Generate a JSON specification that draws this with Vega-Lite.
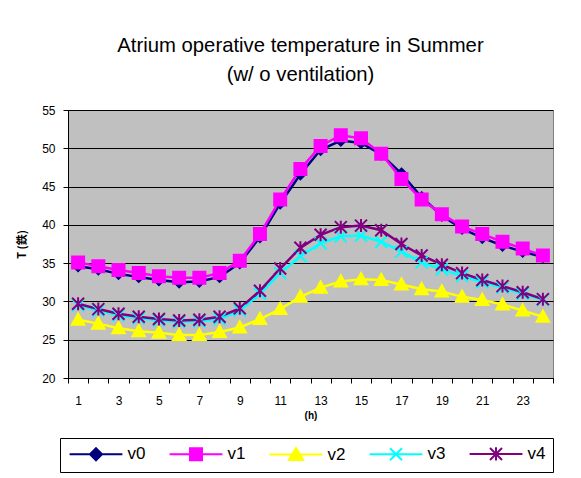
{
  "$schema": "https://vega.github.io/schema/vega-lite/v6.json",
  "width": 485,
  "height": 268,
  "autosize": {"type": "none"},
  "padding": {"left": 68, "top": 110, "right": 28, "bottom": 100},
  "background": "white",
  "config": {
    "font": "Liberation Sans",
    "view": {"fill": "#C0C0C0", "stroke": "#808080", "strokeWidth": 1}
  },
  "title": {
    "text": ["Atrium operative temperature in Summer", "(w/ o ventilation)"],
    "fontSize": 20.3,
    "fontWeight": "normal",
    "lineHeight": 29,
    "color": "black",
    "anchor": "middle",
    "dx": -10,
    "offset": 19
  },
  "data": {"values": [
    {"h":1,"s":"v0","T":34.6},{"h":2,"s":"v0","T":34.2},{"h":3,"s":"v0","T":33.6},{"h":4,"s":"v0","T":33.2},{"h":5,"s":"v0","T":32.8},{"h":6,"s":"v0","T":32.5},{"h":7,"s":"v0","T":32.6},{"h":8,"s":"v0","T":33.2},{"h":9,"s":"v0","T":35.0},{"h":10,"s":"v0","T":38.4},{"h":11,"s":"v0","T":42.8},{"h":12,"s":"v0","T":46.6},{"h":13,"s":"v0","T":49.8},{"h":14,"s":"v0","T":51.0},{"h":15,"s":"v0","T":50.7},{"h":16,"s":"v0","T":49.2},{"h":17,"s":"v0","T":46.7},{"h":18,"s":"v0","T":43.6},{"h":19,"s":"v0","T":41.2},{"h":20,"s":"v0","T":39.5},{"h":21,"s":"v0","T":38.3},{"h":22,"s":"v0","T":37.3},{"h":23,"s":"v0","T":36.5},{"h":24,"s":"v0","T":35.8},
    {"h":1,"s":"v1","T":35.1},{"h":2,"s":"v1","T":34.6},{"h":3,"s":"v1","T":34.1},{"h":4,"s":"v1","T":33.7},{"h":5,"s":"v1","T":33.3},{"h":6,"s":"v1","T":33.1},{"h":7,"s":"v1","T":33.1},{"h":8,"s":"v1","T":33.7},{"h":9,"s":"v1","T":35.3},{"h":10,"s":"v1","T":38.8},{"h":11,"s":"v1","T":43.3},{"h":12,"s":"v1","T":47.3},{"h":13,"s":"v1","T":50.3},{"h":14,"s":"v1","T":51.7},{"h":15,"s":"v1","T":51.3},{"h":16,"s":"v1","T":49.3},{"h":17,"s":"v1","T":46.0},{"h":18,"s":"v1","T":43.3},{"h":19,"s":"v1","T":41.4},{"h":20,"s":"v1","T":39.8},{"h":21,"s":"v1","T":38.8},{"h":22,"s":"v1","T":37.8},{"h":23,"s":"v1","T":36.9},{"h":24,"s":"v1","T":36.0},
    {"h":1,"s":"v2","T":27.6},{"h":2,"s":"v2","T":27.1},{"h":3,"s":"v2","T":26.5},{"h":4,"s":"v2","T":26.1},{"h":5,"s":"v2","T":25.9},{"h":6,"s":"v2","T":25.6},{"h":7,"s":"v2","T":25.6},{"h":8,"s":"v2","T":26.0},{"h":9,"s":"v2","T":26.6},{"h":10,"s":"v2","T":27.7},{"h":11,"s":"v2","T":29.0},{"h":12,"s":"v2","T":30.6},{"h":13,"s":"v2","T":31.8},{"h":14,"s":"v2","T":32.6},{"h":15,"s":"v2","T":32.9},{"h":16,"s":"v2","T":32.8},{"h":17,"s":"v2","T":32.2},{"h":18,"s":"v2","T":31.6},{"h":19,"s":"v2","T":31.3},{"h":20,"s":"v2","T":30.6},{"h":21,"s":"v2","T":30.2},{"h":22,"s":"v2","T":29.6},{"h":23,"s":"v2","T":28.8},{"h":24,"s":"v2","T":28.0},
    {"h":1,"s":"v3","T":29.5},{"h":2,"s":"v3","T":28.8},{"h":3,"s":"v3","T":28.2},{"h":4,"s":"v3","T":27.8},{"h":5,"s":"v3","T":27.5},{"h":6,"s":"v3","T":27.3},{"h":7,"s":"v3","T":27.4},{"h":8,"s":"v3","T":27.7},{"h":9,"s":"v3","T":28.8},{"h":10,"s":"v3","T":31.0},{"h":11,"s":"v3","T":33.7},{"h":12,"s":"v3","T":35.9},{"h":13,"s":"v3","T":37.6},{"h":14,"s":"v3","T":38.5},{"h":15,"s":"v3","T":38.6},{"h":16,"s":"v3","T":37.8},{"h":17,"s":"v3","T":36.5},{"h":18,"s":"v3","T":35.1},{"h":19,"s":"v3","T":34.2},{"h":20,"s":"v3","T":33.3},{"h":21,"s":"v3","T":32.5},{"h":22,"s":"v3","T":31.8},{"h":23,"s":"v3","T":31.0},{"h":24,"s":"v3","T":30.2},
    {"h":1,"s":"v4","T":29.7},{"h":2,"s":"v4","T":29.0},{"h":3,"s":"v4","T":28.4},{"h":4,"s":"v4","T":28.0},{"h":5,"s":"v4","T":27.7},{"h":6,"s":"v4","T":27.5},{"h":7,"s":"v4","T":27.6},{"h":8,"s":"v4","T":28.0},{"h":9,"s":"v4","T":29.1},{"h":10,"s":"v4","T":31.4},{"h":11,"s":"v4","T":34.3},{"h":12,"s":"v4","T":37.0},{"h":13,"s":"v4","T":38.7},{"h":14,"s":"v4","T":39.7},{"h":15,"s":"v4","T":39.9},{"h":16,"s":"v4","T":39.3},{"h":17,"s":"v4","T":37.5},{"h":18,"s":"v4","T":36.0},{"h":19,"s":"v4","T":34.8},{"h":20,"s":"v4","T":33.7},{"h":21,"s":"v4","T":32.8},{"h":22,"s":"v4","T":32.0},{"h":23,"s":"v4","T":31.2},{"h":24,"s":"v4","T":30.3}
  ]},
  "encoding": {
    "x": {
      "field": "h", "type": "ordinal",
      "scale": {"type": "band", "paddingInner": 0, "paddingOuter": 0},
      "axis": {
        "title": "(h)", "titleFontSize": 10, "titleFontWeight": "bold", "titleColor": "black", "titlePadding": 4,
        "labelAngle": 0, "labelFontSize": 12, "labelColor": "black", "labelPadding": 12, "labelOverlap": false,
        "labelExpr": "datum.value % 2 == 1 ? datum.label : ''",
        "tickBand": "extent", "tickSize": 5, "tickColor": "black",
        "domainColor": "black", "grid": false
      }
    },
    "y": {
      "field": "T", "type": "quantitative",
      "scale": {"domain": [20, 55], "nice": false, "zero": false},
      "axis": {
        "title": "T (鉄)", "titleFont": "Noto Sans CJK SC", "titleFontSize": 11, "titleFontWeight": "bold", "titleColor": "black", "titlePadding": 14,
        "values": [20, 25, 30, 35, 40, 45, 50, 55],
        "labelFontSize": 12, "labelColor": "black", "labelPadding": 8,
        "tickSize": 5, "tickColor": "black", "domainColor": "black",
        "grid": true, "gridColor": "black", "gridWidth": 1, "gridOpacity": 1
      }
    }
  },
  "layer": [
    {
      "mark": {"type": "line", "strokeWidth": 2.5},
      "encoding": {
        "color": {"field": "s", "type": "nominal",
          "scale": {"domain": ["v0","v1","v2","v3","v4"], "range": ["#000080","#FF00FF","#FFFF00","#00FFFF","#800080"]},
          "legend": null}
      }
    },
    {
      "mark": {"type": "point", "filled": true, "strokeWidth": 2, "opacity": 1, "size": 100},
      "encoding": {
        "color": {"field": "s", "type": "nominal", "legend": null},
        "stroke": {"field": "s", "type": "nominal",
          "scale": {"domain": ["v0","v1","v2","v3","v4"], "range": ["#000080","#FF00FF","#FFFF00","#00FFFF","#800080"]},
          "legend": null},
        "shape": {"field": "s", "type": "nominal",
          "scale": {"domain": ["v0","v1","v2","v3","v4"], "range": [
            "M0,-1L1,0L0,1L-1,0Z",
            "M-1.2,-1.2H1.2V1.2H-1.2Z",
            "M0,-1.25L1.25,1H-1.25Z",
            "M-1.2,-1.2L1.2,1.2M-1.2,1.2L1.2,-1.2",
            "M-1.2,-1.2L1.2,1.2M-1.2,1.2L1.2,-1.2M0,-1.3V1.3"
          ]},
          "legend": null}
      }
    },
    {
      "transform": [{"filter": "datum.h > 100"}],
      "mark": {"type": "point", "filled": true, "strokeWidth": 2, "opacity": 1, "size": 144},
      "encoding": {
        "color": {"field": "s", "type": "nominal",
          "legend": {
            "title": null, "orient": "none", "legendX": -8, "legendY": 328,
            "direction": "horizontal", "columns": 5,
            "symbolSize": 144, "symbolStrokeWidth": 2, "symbolOffset": 20.5,
            "labelOffset": 23, "columnPadding": 19,
            "labelFontSize": 17, "labelColor": "black",
            "padding": 7, "strokeColor": "black", "fillColor": "white"
          }},
        "stroke": {"field": "s", "type": "nominal"},
        "shape": {"field": "s", "type": "nominal",
          "scale": {"domain": ["v0","v1","v2","v3","v4"], "range": [
            "M-4.4,0H4.4M0,-1L1,0L0,1L-1,0Z",
            "M-4.4,0H4.4M-1,-1H1V1H-1Z",
            "M-4.4,0H4.4M0,-1.1L1.2,0.9H-1.2Z",
            "M-4.4,0H4.4M-1,-1L1,1M-1,1L1,-1",
            "M-4.4,0H4.4M-1,-1L1,1M-1,1L1,-1M0,-1.1V1.1"
          ]}}
      }
    }
  ],
  "resolve": {"scale": {"shape": "independent"}, "legend": {"color": "independent", "shape": "independent", "stroke": "independent"}}
}
